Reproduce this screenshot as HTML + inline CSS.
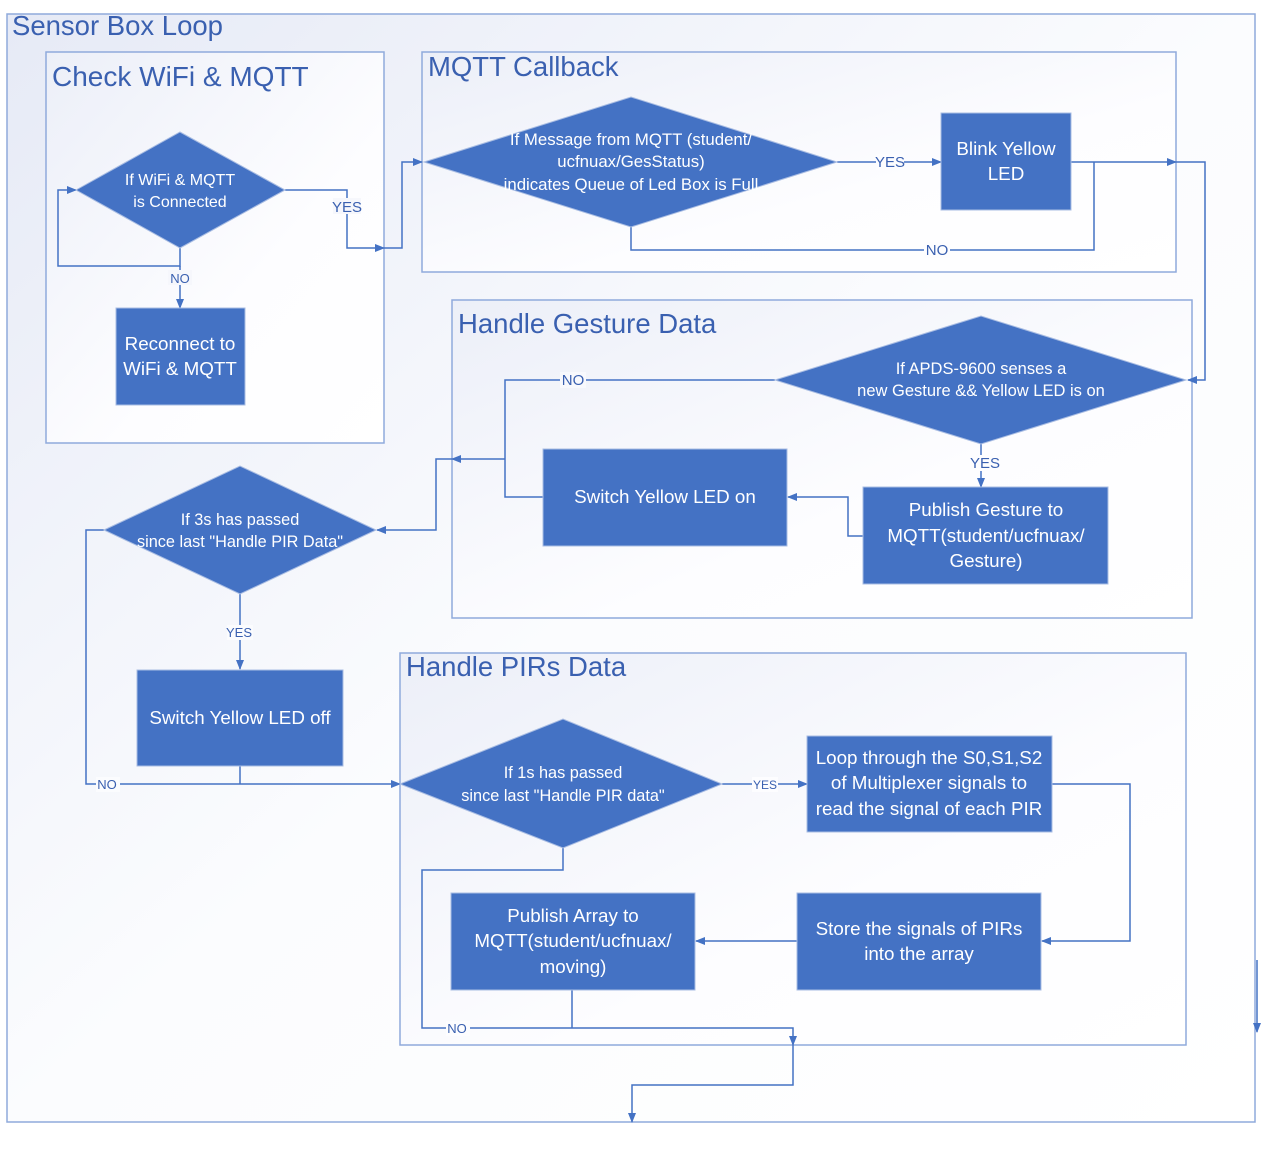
<!DOCTYPE html>
<html><head><meta charset="utf-8"><style>
html,body{margin:0;padding:0;background:#fff;}
svg{display:block;}
text{font-family:"Liberation Sans",sans-serif;}
</style></head><body>
<svg width="1266" height="1161" viewBox="0 0 1266 1161" xmlns="http://www.w3.org/2000/svg">
<defs>
<linearGradient id="bg" x1="0" y1="0" x2="1" y2="1">
<stop offset="0" stop-color="#e6eaf6"/><stop offset="0.5" stop-color="#fbfcfe"/><stop offset="1" stop-color="#ffffff"/>
</linearGradient>
<linearGradient id="bg2" x1="0" y1="0" x2="1" y2="1">
<stop offset="0" stop-color="#eceff8"/><stop offset="0.6" stop-color="#fdfdff"/><stop offset="1" stop-color="#ffffff"/>
</linearGradient>
<marker id="a" markerWidth="10" markerHeight="10" refX="9" refY="5" orient="auto" markerUnits="userSpaceOnUse">
<path d="M0,1 L10,5 L0,9 z" fill="#4472c4"/></marker>
</defs>
<rect x="7" y="14" width="1248" height="1108" fill="url(#bg)" stroke="#8faadc" stroke-width="1.5"/>
<text x="12" y="35" font-size="27.5" fill="#3a60b0">Sensor Box Loop</text>

<rect x="46" y="52" width="338" height="391" fill="url(#bg2)" stroke="#8faadc" stroke-width="1.5"/>
<text x="52" y="86" font-size="28" fill="#3a60b0">Check WiFi &amp; MQTT</text>
<rect x="422" y="52" width="754" height="220" fill="url(#bg2)" stroke="#8faadc" stroke-width="1.5"/>
<text x="428" y="76" font-size="27.5" fill="#3a60b0">MQTT Callback</text>
<rect x="452" y="300" width="740" height="318" fill="url(#bg2)" stroke="#8faadc" stroke-width="1.5"/>
<text x="458" y="333" font-size="27.5" fill="#3a60b0">Handle Gesture Data</text>
<rect x="400" y="653" width="786" height="392" fill="url(#bg2)" stroke="#8faadc" stroke-width="1.5"/>
<text x="406" y="676" font-size="27.5" fill="#3a60b0">Handle PIRs Data</text>

<g fill="none" stroke="#4472c4" stroke-width="1.5">
<polyline points="180,248 180,266 58,266 58,190 76,190" marker-end="url(#a)"/>
<polyline points="180,266 180,308" marker-end="url(#a)"/>
<polyline points="285,190 347,190 347,248 384,248" marker-end="url(#a)"/>
<polyline points="384,248 402,248 402,162 422,162" marker-end="url(#a)"/>
<polyline points="837,162 941,162" marker-end="url(#a)"/>
<polyline points="1071,162 1176,162" marker-end="url(#a)"/>
<polyline points="1176,162 1205,162 1205,380 1188,380" marker-end="url(#a)"/>
<polyline points="631,227 631,250 1094,250 1094,162"/>
<polyline points="775,380 505,380 505,497 543,497"/>
<polyline points="981,444 981,487" marker-end="url(#a)"/>
<polyline points="863,536 848,536 848,497 788,497" marker-end="url(#a)"/>
<polyline points="505,459 452,459" marker-end="url(#a)"/>
<polyline points="452,459 436,459 436,530 377,530" marker-end="url(#a)"/>
<polyline points="240,594 240,669" marker-end="url(#a)"/>
<polyline points="104,530 86,530 86,784 400,784" marker-end="url(#a)"/>
<polyline points="240,766 240,784"/>
<polyline points="722,784 807,784" marker-end="url(#a)"/>
<polyline points="1052,784 1130,784 1130,941 1042,941" marker-end="url(#a)"/>
<polyline points="797,941 696,941" marker-end="url(#a)"/>
<polyline points="563,848 563,870 422,870 422,1028 793,1028 793,1045" marker-end="url(#a)"/>
<polyline points="572,990 572,1028"/>
<polyline points="793,1045 793,1085 632,1085 632,1122" marker-end="url(#a)"/>
<polyline points="1257,960 1257,1032" marker-end="url(#a)"/>
</g>

<g fill="#4472c4" stroke="#a9bde3" stroke-width="1">
<polygon points="76,190 180,132 285,190 180,248"/>
<rect x="116" y="308" width="129" height="97"/>
<polygon points="424,162 631,97 837,162 631,227"/>
<rect x="941" y="113" width="130" height="97"/>
<polygon points="775,380 981,316 1186,380 981,444"/>
<rect x="543" y="449" width="244" height="97"/>
<rect x="863" y="487" width="245" height="97"/>
<polygon points="104,530 240,466 376,530 240,594"/>
<rect x="137" y="670" width="206" height="96"/>
<polygon points="400,784 563,719 722,784 563,848"/>
<rect x="807" y="736" width="245" height="96"/>
<rect x="797" y="893" width="244" height="97"/>
<rect x="451" y="893" width="244" height="97"/>
</g>

<g fill="#fff" text-anchor="middle">
<text font-size="16"><tspan x="180" y="185">If WiFi &amp; MQTT</tspan><tspan x="180" y="207">is Connected</tspan></text>
<text font-size="18.8"><tspan x="180" y="350">Reconnect to</tspan><tspan x="180" y="375">WiFi &amp; MQTT</tspan></text>
<text font-size="16.8"><tspan x="631" y="145">If Message from MQTT (student/</tspan><tspan x="631" y="167">ucfnuax/GesStatus)</tspan><tspan x="631" y="190">indicates Queue of Led Box is Full</tspan></text>
<text font-size="18.8"><tspan x="1006" y="155">Blink Yellow</tspan><tspan x="1006" y="180">LED</tspan></text>
<text font-size="16.5"><tspan x="981" y="374">If APDS-9600 senses a</tspan><tspan x="981" y="396">new Gesture &amp;&amp; Yellow LED is on</tspan></text>
<text font-size="18.8" x="665" y="503">Switch Yellow LED on</text>
<text font-size="18.8"><tspan x="986" y="516">Publish Gesture to</tspan><tspan x="986" y="542">MQTT(student/ucfnuax/</tspan><tspan x="986" y="567">Gesture)</tspan></text>
<text font-size="16.3"><tspan x="240" y="525">If 3s has passed</tspan><tspan x="240" y="547">since last "Handle PIR Data"</tspan></text>
<text font-size="18.8" x="240" y="724">Switch Yellow LED off</text>
<text font-size="16.3"><tspan x="563" y="778">If 1s has passed</tspan><tspan x="563" y="801">since last "Handle PIR data"</tspan></text>
<text font-size="18.8"><tspan x="929" y="764">Loop through the S0,S1,S2</tspan><tspan x="929" y="789">of Multiplexer signals to</tspan><tspan x="929" y="815">read the signal of each PIR</tspan></text>
<text font-size="18.8"><tspan x="919" y="935">Store the signals of PIRs</tspan><tspan x="919" y="960">into the array</tspan></text>
<text font-size="18.8"><tspan x="573" y="922">Publish Array to</tspan><tspan x="573" y="947">MQTT(student/ucfnuax/</tspan><tspan x="573" y="973">moving)</tspan></text>
</g>

<g text-anchor="middle" fill="#3a60b0">
<rect x="333" y="198" width="28" height="16" fill="#f6f7fc"/><text x="347" y="212" font-size="15">YES</text>
<rect x="168" y="270" width="24" height="15" fill="#f6f7fc"/><text x="180" y="283" font-size="13">NO</text>
<rect x="876" y="154" width="28" height="16" fill="#fdfdff"/><text x="890" y="167" font-size="15">YES</text>
<rect x="924" y="242" width="26" height="16" fill="#fdfdff"/><text x="937" y="255" font-size="15">NO</text>
<rect x="560" y="372" width="26" height="16" fill="#f8f9fd"/><text x="573" y="385" font-size="15">NO</text>
<rect x="970" y="455" width="30" height="16" fill="#fdfdff"/><text x="985" y="468" font-size="15">YES</text>
<rect x="227" y="625" width="26" height="15" fill="#fbfcfe"/><text x="239" y="637" font-size="13">YES</text>
<rect x="96" y="777" width="24" height="15" fill="#fbfcfe"/><text x="107" y="789" font-size="13">NO</text>
<rect x="752" y="777" width="26" height="15" fill="#fdfdff"/><text x="765" y="789" font-size="12">YES</text>
<rect x="446" y="1021" width="24" height="15" fill="#fdfdff"/><text x="457" y="1033" font-size="13">NO</text>
</g>
</svg>
</body></html>
